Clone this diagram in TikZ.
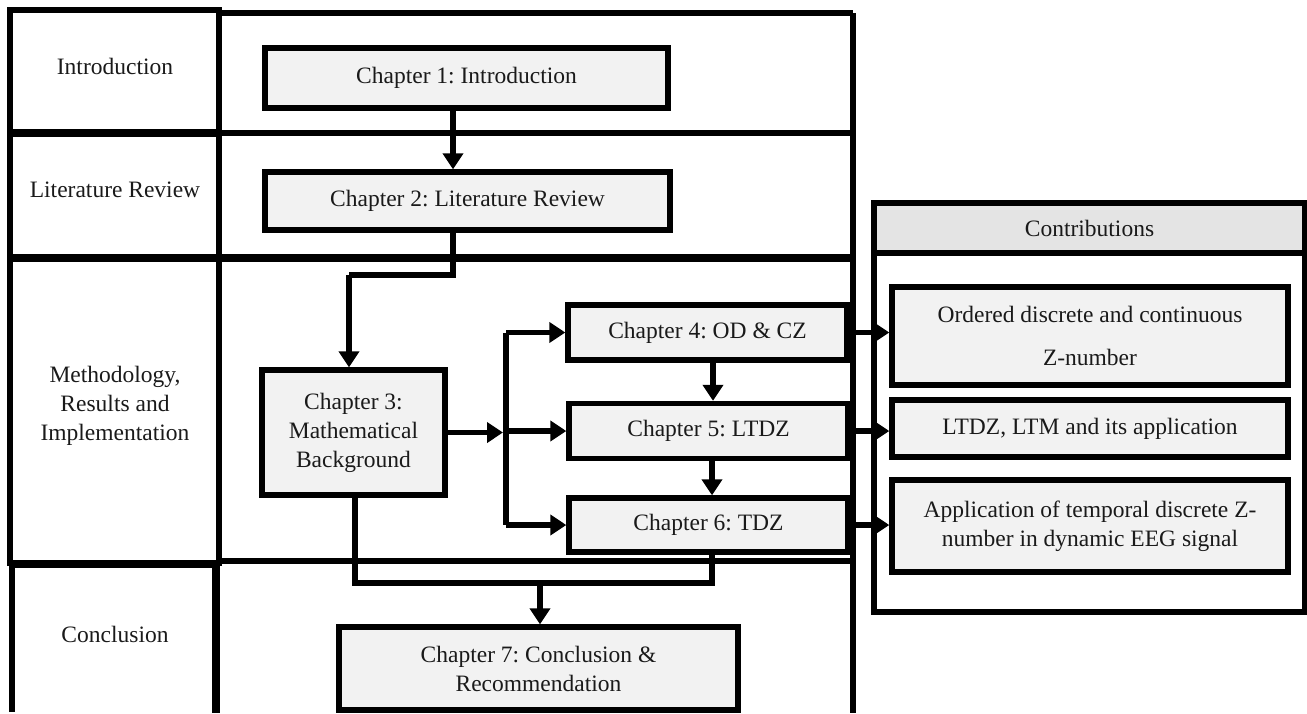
\documentclass[tikz,border=0pt]{standalone}
\usepackage{fontspec}
\setmainfont{Liberation Serif}
\usetikzlibrary{arrows.meta}
\definecolor{boxfill}{HTML}{F2F2F2}
\definecolor{headfill}{HTML}{E4E4E4}
\definecolor{txt}{HTML}{1A1A1A}
\frenchspacing
\begin{document}
\begin{tikzpicture}[x=0.5pt,y=-0.5pt,
  every node/.style={font=\fontsize{11.75}{14.5}\selectfont,text=txt},
  frame/.style={line width=2.6pt},
  thickframe/.style={line width=4.2pt},
  chap/.style={draw,line width=2.7pt,fill=boxfill,inner sep=0pt,align=center},
  lbl/.style={align=center,inner sep=0pt},
  conn/.style={line width=2.7pt},
  arr/.style={line width=2.7pt,-{Triangle[length=8pt,width=10pt]}}]
\useasboundingbox (0,0) rectangle (1307,713);

% ---- left column cells ----
\draw[frame] (10,10) rectangle (219,133);
\draw[frame] (10,133) rectangle (219,258);
\draw[frame] (10,258) rectangle (219,563);
\draw[frame] (12,712) -- (12,565) -- (216,565);
\draw[thickframe] (216,565) -- (216,713);
\draw[thickframe] (10,133) -- (219,133);
\draw[thickframe] (10,258) -- (219,258);
\draw[thickframe] (10,564) -- (219,564);

\node[lbl] (lintro) at (115,66) {Introduction};
\node[lbl] (llit) at (115,190) {Literature Review};
\node[lbl] (lmeth) at (115,406) {Methodology,\\Results and\\Implementation};
\node[lbl] (lconc) at (115,634) {Conclusion};

% ---- main area rows ----
\draw[frame] (219,13) -- (853,13);
\draw[frame] (853,13) -- (853,713);
\draw[frame] (219,133) -- (853,133);
\draw[thickframe] (219,258) -- (853,258);
\draw[line width=3.2pt] (219,561) -- (853,561);

% ---- chapters ----
\node[chap,minimum width=201.5pt,minimum height=30pt] (c1) at (466.5,78) {Chapter 1: Introduction};
\node[chap,minimum width=202.5pt,minimum height=29pt] (c2) at (467.5,201) {Chapter 2: Literature Review};
\node[chap,minimum width=91.5pt,minimum height=62.5pt] (c3) at (353.5,432.5) {Chapter 3:\\Mathematical\\Background};
\node[chap,minimum width=139.5pt,minimum height=27.5pt] (c4) at (707.5,332.5) {Chapter 4: OD \& CZ};
\node[chap,minimum width=139.5pt,minimum height=27.5pt] (c5) at (708.5,431) {Chapter 5: LTDZ};
\node[chap,minimum width=139.5pt,minimum height=27pt] (c6) at (708.5,525) {Chapter 6: TDZ};
\node[chap,minimum width=199.5pt,minimum height=41.5pt] (c7) at (538.5,668.5) {Chapter 7: Conclusion \&\\Recommendation};

% ---- contributions ----
\draw[frame,fill=headfill] (874,203) rectangle (1305,253);
\node[lbl] (chead) at (1089.5,228) {Contributions};
\draw[frame] (874,253) -- (874,612) -- (1305,612) -- (1305,253);
\node[chap,minimum width=198pt,minimum height=49pt] (cA) at (1090,336) {Ordered discrete and continuous\\[7pt]Z-number};
\node[chap,minimum width=198pt,minimum height=28.5pt] (cB) at (1090,428.5) {LTDZ, LTM and its application};
\node[chap,minimum width=198pt,minimum height=46pt] (cC) at (1090,526) {Application of temporal discrete Z-\\number in dynamic EEG signal};

% ---- connector coordinates ----
\coordinate (k1) at (453,275);
\coordinate (k2) at (349,275);
\coordinate (s) at (506,432.5);
\coordinate (k4) at (713,0);
\coordinate (m1) at (355,583);
\coordinate (m2) at (712,583);
\coordinate (m3) at (540,583);

% ---- connectors ----
\draw[arr] (c1.south -| k1) -- (c2.north -| k1);
\draw[conn] (c2.south -| k1) -- (k1) -- (k2);
\draw[arr] (k2) -- (c3.north -| k2);
\draw[arr] (c3.east) -- ([xshift=-1.5pt]s);
\draw[conn] (s |- c4.west) -- (s |- c6.west);
\draw[arr] (s |- c4.west) -- (c4.west);
\draw[arr] (s |- c5.west) -- (c5.west);
\draw[arr] (s |- c6.west) -- (c6.west);
\draw[arr] (c4.south -| k4) -- (c5.north -| k4);
\draw[arr] (c5.south -| m2) -- (c6.north -| m2);
\draw[conn] (c3.south -| m1) -- (m1) -- (m2) -- (c6.south -| m2);
\draw[arr] (m3) -- (c7.north -| m3);
\draw[arr] (c4.east) -- (c4.east -| cA.west);
\draw[arr] (c5.east) -- (c5.east -| cB.west);
\draw[arr] (c6.east) -- (c6.east -| cC.west);
\end{tikzpicture}
\end{document}
